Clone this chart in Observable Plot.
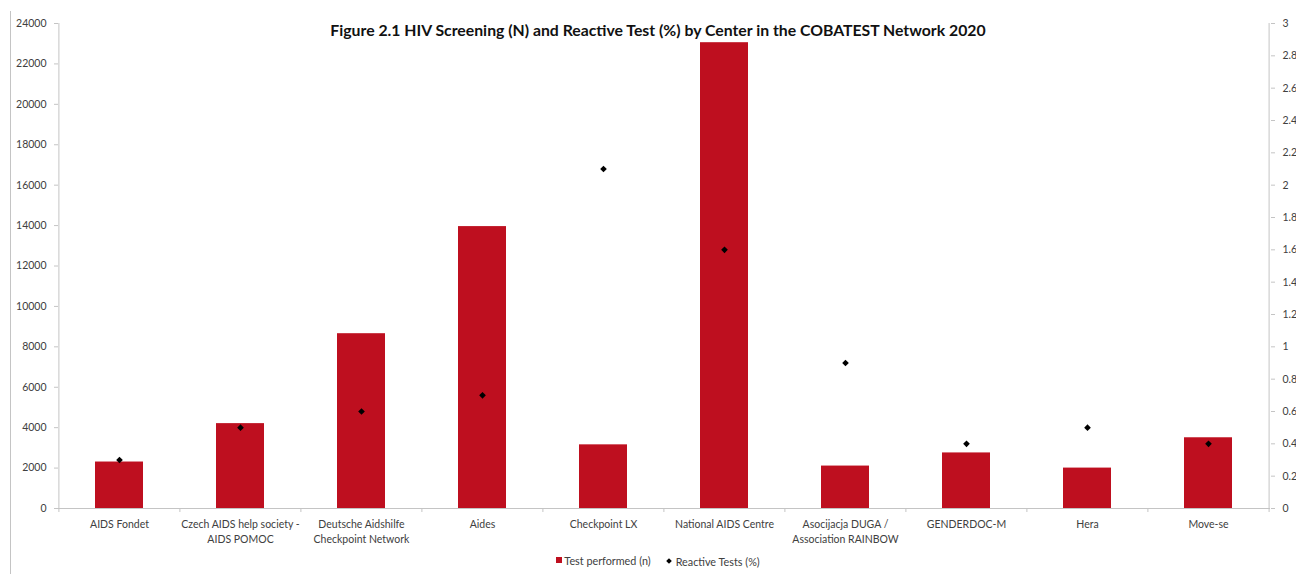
<!DOCTYPE html>
<html>
<head>
<meta charset="utf-8">
<script src="https://cdn.jsdelivr.net/npm/d3@7"></script>
<script src="https://cdn.jsdelivr.net/npm/@observablehq/plot@0.6"></script>
<style>
  html, body { margin: 0; padding: 0; background: #fff; }
  #wrap { position: relative; width: 1296px; height: 574px; overflow: hidden; font-family: Lato, "Open Sans", sans-serif; }
  #title { position: absolute; left: 0; width: 1316px; top: 20px; text-align: center; font-weight: bold; font-size: 15.8px; color: #111; }
  #legend { position: absolute; left: 0; width: 1316px; top: 552px; text-align: center; font-size: 10.8px; color: #404040; }
  #legend span.item { display: inline-flex; align-items: center; margin: 0 7px; }
  #legend .sq { display: inline-block; width: 6px; height: 6px; background: #BE0F1F; margin-right: 2px; }
  #legend .dm { display: inline-block; width: 4px; height: 4px; background: #000; transform: rotate(45deg); margin-right: 5px; margin-left: 2px; }
  #border { position: absolute; left: 10px; top: 11px; width: 1px; height: 563px; background: #c4c4c4; }
</style>
</head>
<body>
<div id="wrap">
  <div id="border"></div>
  <div id="chart"></div>
  <div id="title">Figure 2.1 HIV Screening (N) and Reactive Test (%) by Center in the COBATEST Network 2020</div>
  <div id="legend"><span class="item"><span class="sq"></span>Test performed (n)</span><span class="item"><span class="dm"></span>Reactive Tests (%)</span></div>
</div>
<script>
const centers = ["AIDS Fondet", "Czech AIDS help society - AIDS POMOC", "Deutsche Aidshilfe Checkpoint Network", "Aides", "Checkpoint LX", "National AIDS Centre", "Asocijacja DUGA / Association RAINBOW", "GENDERDOC-M", "Hera", "Move-se"];
const centerLabels = ["AIDS Fondet", "Czech AIDS help society -\nAIDS POMOC", "Deutsche Aidshilfe\nCheckpoint Network", "Aides", "Checkpoint LX", "National AIDS Centre", "Asocijacja DUGA /\nAssociation RAINBOW", "GENDERDOC-M", "Hera", "Move-se"];
const testsPerformed = [2300, 4200, 8650, 13950, 3150, 23050, 2100, 2750, 2000, 3500];
const reactivePct = [0.3, 0.5, 0.6, 0.7, 2.1, 1.6, 0.9, 0.4, 0.5, 0.4];
const leftTicks = [0, 2000, 4000, 6000, 8000, 10000, 12000, 14000, 16000, 18000, 20000, 22000, 24000];
const rightTicks = [0, 0.2, 0.4, 0.6, 0.8, 1, 1.2, 1.4, 1.6, 1.8, 2, 2.2, 2.4, 2.6, 2.8, 3];

const leftMax = 24000, rightMax = 3;
const k = leftMax / rightMax;

const rows = centers.map((c, i) => ({center: c, label: centerLabels[i], n: testsPerformed[i], pct: reactivePct[i]}));
const labelOf = new Map(rows.map(d => [d.center, d.label]));

const W = 1296, H = 574, mt = 23, mb = 66, ml = 58, mr = 26;
const step = (W - ml - mr) / centers.length;
const frameH = H - mt - mb;
const axisColor = "#c4c4c4";
const textColor = "#404040";

const chart = Plot.plot({
  width: W, height: H,
  marginTop: mt, marginBottom: mb, marginLeft: ml, marginRight: mr,
  style: {fontFamily: "Lato, 'Open Sans', sans-serif", color: textColor, background: "#fff"},
  x: {domain: centers, paddingInner: 0.6, paddingOuter: 0.3, axis: null, label: null},
  y: {domain: [0, leftMax], axis: null, label: null},
  marks: [
    Plot.barY(rows, {x: "center", y: "n", fill: "#BE0F1F"}),
    // axis lines
    Plot.ruleY([0], {stroke: axisColor}),
    Plot.ruleX([centers[0]], {x: d => d, dx: -step / 2, stroke: axisColor}),
    Plot.ruleX([centers[centers.length - 1]], {x: d => d, dx: step / 2, stroke: axisColor}),
    // x category boundary ticks
    Plot.ruleX(centers, {x: d => d, dx: -step / 2, insetTop: frameH, insetBottom: -4, stroke: axisColor}),
    Plot.ruleX([centers[centers.length - 1]], {x: d => d, dx: step / 2, insetTop: frameH, insetBottom: -4, stroke: axisColor}),
    Plot.axisX({domain: centers, label: null, tickSize: 0, tickPadding: 9, fontSize: 10.5, tickFormat: d => labelOf.get(d), lineHeight: 1.4, textAnchor: "middle", color: textColor}),
    Plot.axisY({label: null, ticks: leftTicks, tickSize: 4, tickPadding: 8, fontSize: 10.5, tickFormat: d => String(d), stroke: axisColor, color: textColor}),
    Plot.axisY({label: null, anchor: "right", ticks: rightTicks.map(v => v * k), tickSize: 4, tickPadding: 8, fontSize: 10.5, tickFormat: d => String(+(d / k).toFixed(1)), stroke: axisColor, color: textColor, textAnchor: "start"}),
    Plot.dot(rows, {x: "center", y: d => d.pct * k, symbol: "diamond2", r: 3, fill: "#000", stroke: "none"})
  ]
});
document.getElementById("chart").appendChild(chart);
</script>
</body>
</html>
